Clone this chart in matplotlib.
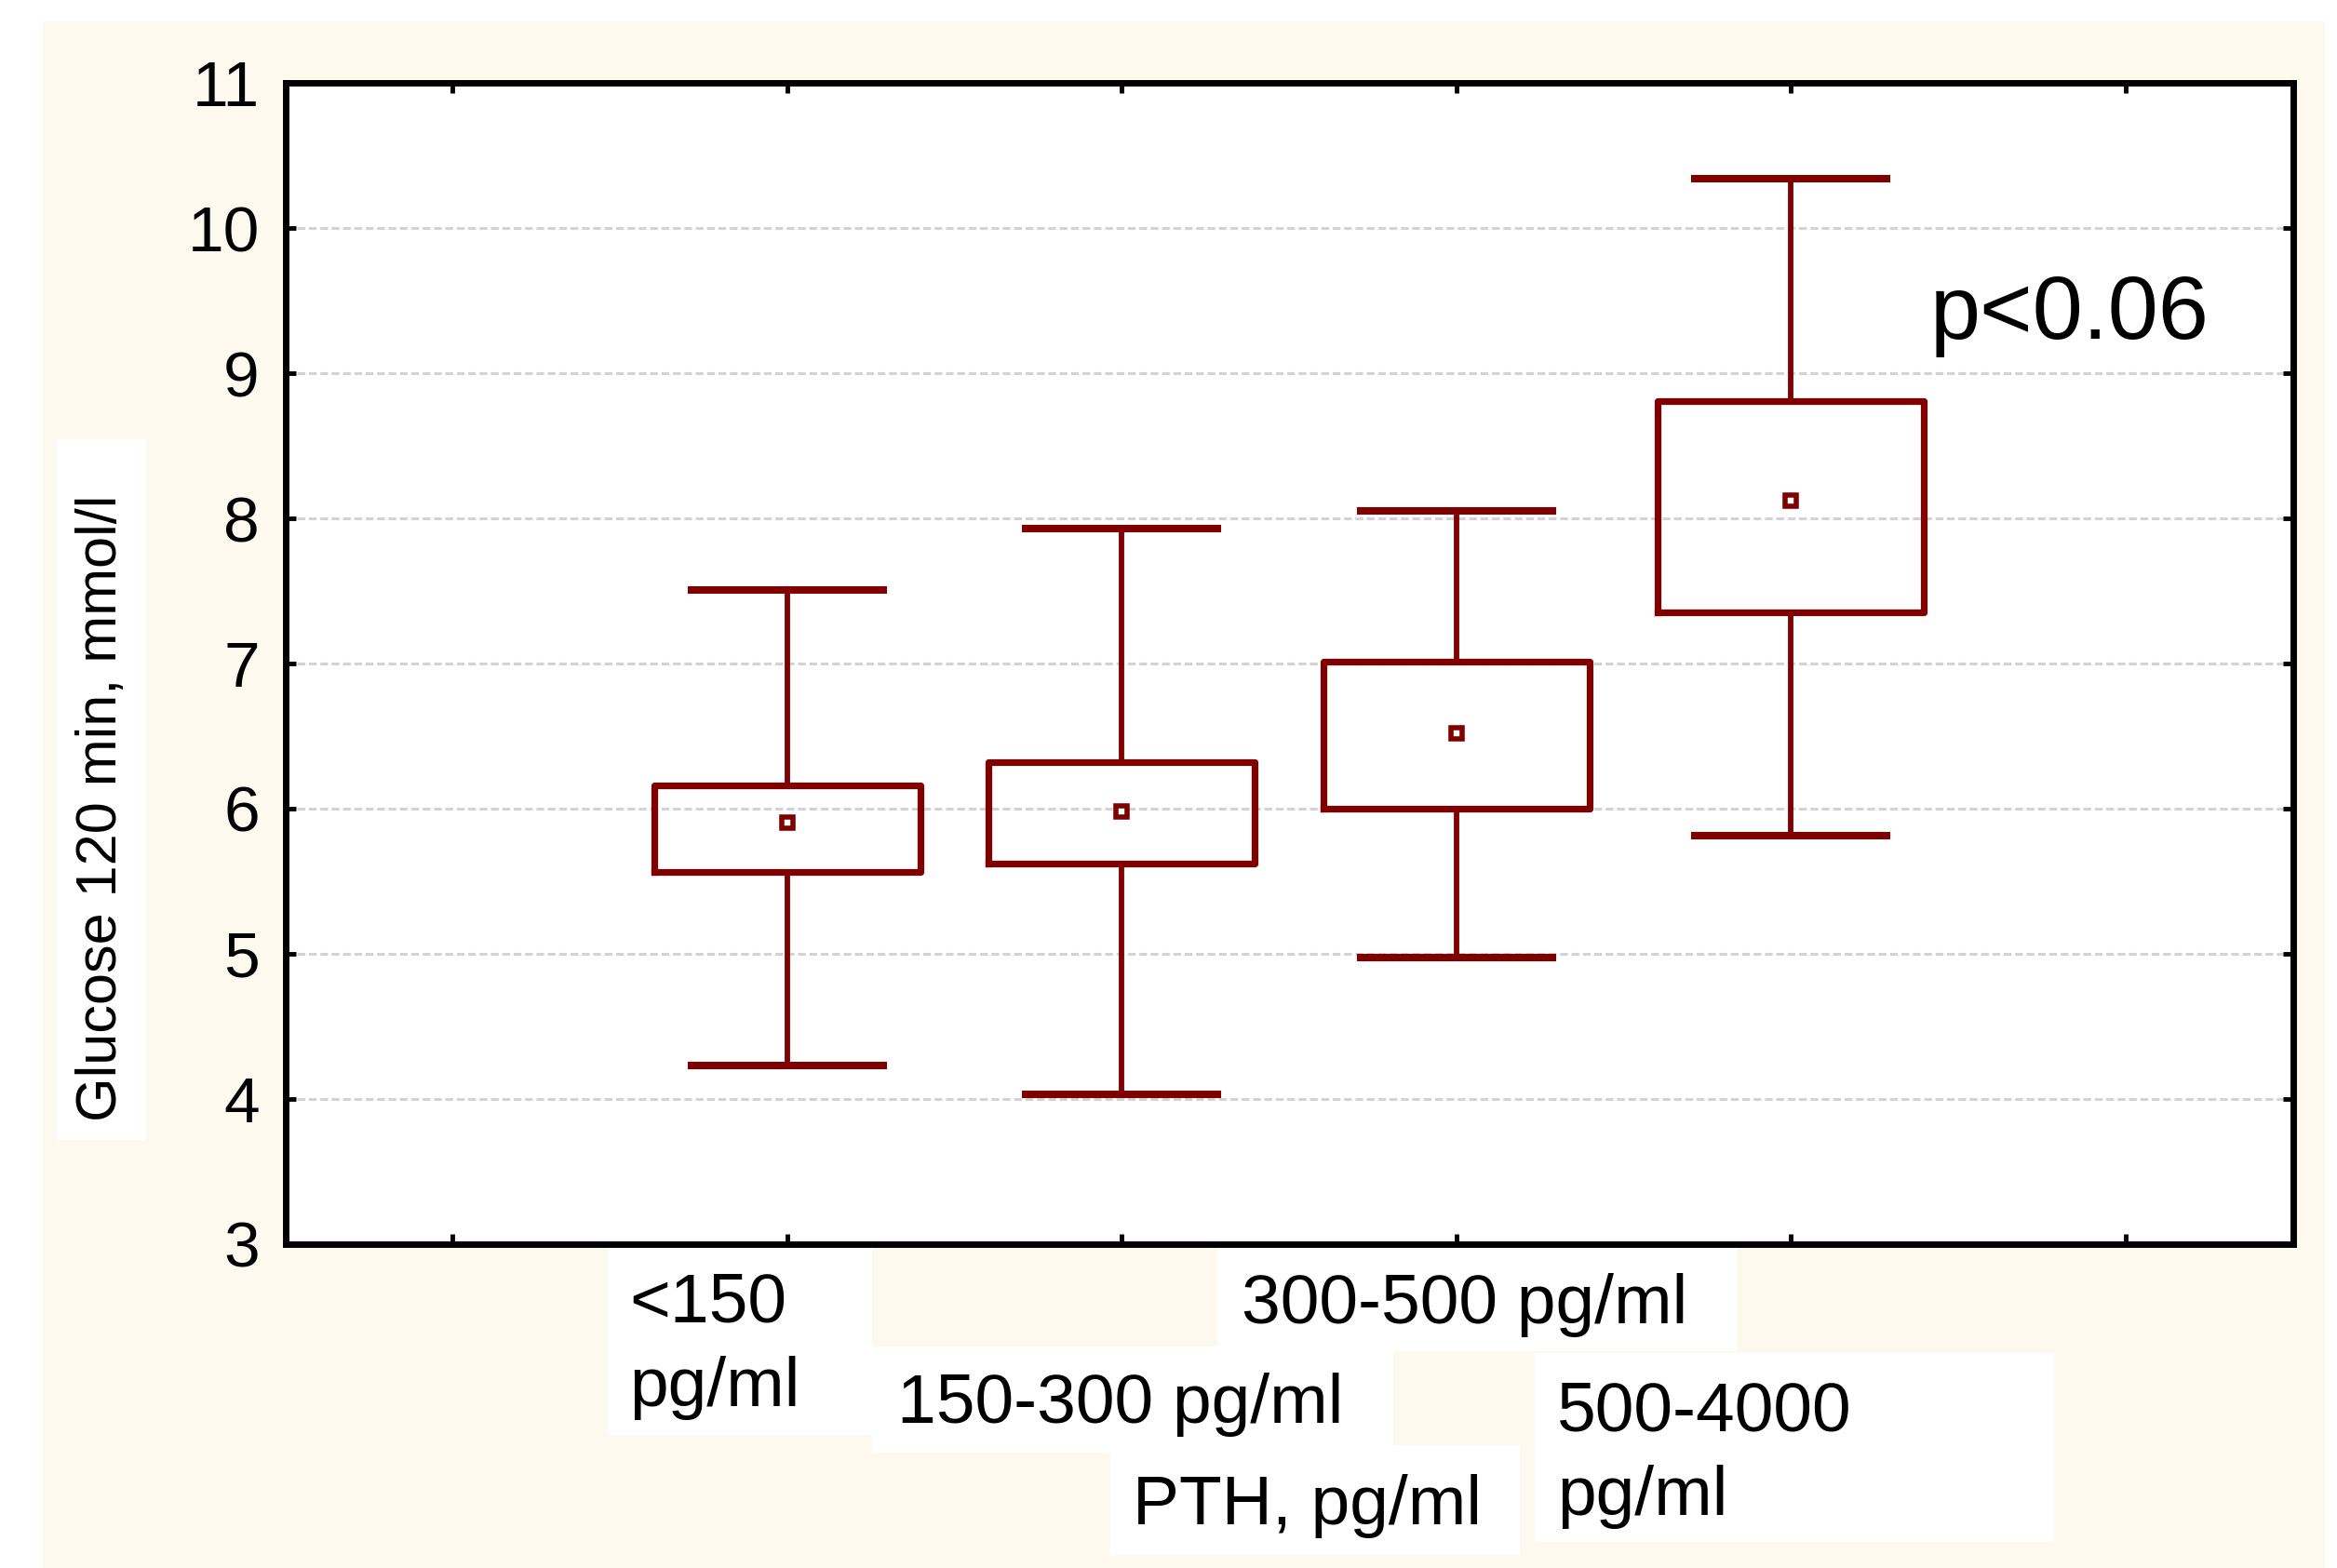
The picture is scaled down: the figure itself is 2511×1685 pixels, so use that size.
import matplotlib
matplotlib.use("Agg")
import matplotlib.pyplot as plt
from matplotlib.patches import Rectangle

# data
groups = ["<150\npg/ml", "150-300 pg/ml", "300-500 pg/ml", "500-4000\npg/ml"]
means = [5.90, 5.98, 6.52, 8.12]
box_low = [5.56, 5.62, 6.00, 7.35]
box_high = [6.16, 6.32, 7.01, 8.81]
whisk_low = [4.23, 4.03, 4.97, 5.81]
whisk_high = [7.51, 7.93, 8.05, 10.34]
yticks = [3, 4, 5, 6, 7, 8, 9, 10, 11]

red = "#800000"
cream = "#fdf9ef"
W, H = 2511, 1685

def fx(px):
    return px / W

def fy(py):
    return 1 - py / H

fig = plt.figure(figsize=(25.11, 16.85), dpi=100)
fig.patch.set_facecolor("white")

# cream page behind everything
fig.patches.append(Rectangle((fx(46), 0), fx(2498) - fx(46), fy(23), transform=fig.transFigure,
                             facecolor=cream, edgecolor="none", zorder=-10))
# white label patches
for x0, y0, x1, y1 in [(61, 472, 157, 1225), (653, 1337, 937, 1542), (937, 1447, 1497, 1561),
                       (1308, 1337, 1866, 1452), (1649, 1454, 2207, 1657), (1193, 1553, 1633, 1671)]:
    fig.patches.append(Rectangle((fx(x0), fy(y1)), fx(x1) - fx(x0), fy(y0) - fy(y1),
                                 transform=fig.transFigure, facecolor="white", edgecolor="none", zorder=-9))

ax = fig.add_axes([fx(306.5), fy(1336.5), fx(2463.5) - fx(306.5), fy(89.5) - fy(1336.5)])
ax.set_facecolor("white")

positions = [2, 3, 4, 5]
stats = []
for i in range(len(groups)):
    stats.append(dict(med=means[i], q1=box_low[i], q3=box_high[i], whislo=whisk_low[i],
                      whishi=whisk_high[i], mean=means[i], fliers=[]))

ax.bxp(stats, positions=positions, widths=0.796, capwidths=0.573, showmeans=True,
       boxprops=dict(color=red, linewidth=5.2),
       whiskerprops=dict(color=red, linewidth=4.2),
       capprops=dict(color=red, linewidth=5.8),
       medianprops=dict(linewidth=0),
       meanprops=dict(marker="s", markersize=8, markerfacecolor="white",
                      markeredgecolor=red, markeredgewidth=4), zorder=3)

ax.set_xlim(0.5, 6.5)
ax.set_ylim(3, 11)
ax.set_xticks([1, 2, 3, 4, 5, 6])
ax.set_xticklabels([])
ax.set_yticks(yticks)
ax.set_yticklabels([str(t) for t in yticks], family="Liberation Sans", fontsize=50)
ax.tick_params(which="both", direction="in", top=True, right=True, length=8, width=3.5,
               pad=20, colors="black")

for v in yticks[1:-1]:
    ax.axhline(v, color="#d3d3d3", linewidth=2.2, linestyle=(0, (2.7, 1.3)), zorder=1)

for s in ax.spines.values():
    s.set_linewidth(5)
    s.set_color("black")

ax.text(5.417, 9.24, "p<0.06", fontsize=70, family="Liberation Sans", ha="left", va="baseline")

# category labels below the axis, staggered as in the reference
label_pos = [(676, 1420), (964, 1529), (1334, 1422), (1673, 1537)]
for lab, (px, py) in zip(groups, label_pos):
    fig.text(fx(px), fy(py), lab.split("\n")[0], fontsize=54, family="Liberation Sans",
             ha="left", va="baseline")
    if "\n" in lab:
        fig.text(fx(px), fy(py + 91), lab.split("\n")[1], fontsize=54, family="Liberation Sans",
                 ha="left", va="baseline")

fig.text(fx(1217), fy(1638), "PTH, pg/ml", fontsize=54, family="Liberation Sans",
         ha="left", va="baseline")
fig.text(fx(110), fy(868), "Glucose 120 min, mmol/l", fontsize=44, rotation=90,
         family="Liberation Sans", ha="center", va="center")

fig.savefig("out.png", dpi=100)
